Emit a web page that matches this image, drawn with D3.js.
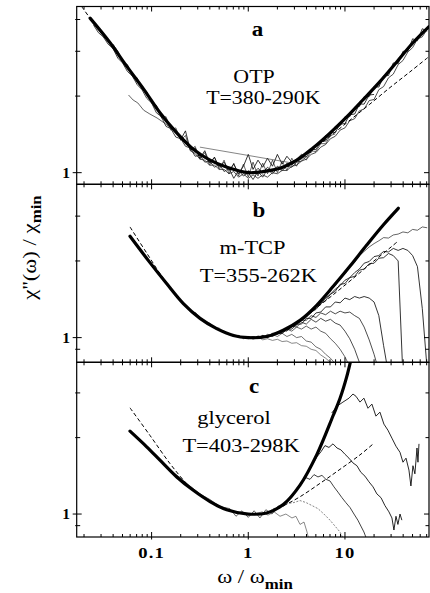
<!DOCTYPE html>
<html><head><meta charset="utf-8">
<script src="https://cdn.jsdelivr.net/npm/d3@7/dist/d3.min.js"></script>
<style>body{margin:0;background:#fff}svg{display:block}</style>
</head><body>
<svg id="chart" width="430" height="593"></svg>
<script>
// ---------------- DATA ----------------
const xDomain = [0.0168, 74];
const xMajorTicks = [0.1, 1, 10];
const xTickLabels = ["0.1", "1", "10"];
const yDomainOTP = [0.9, 4.5];
const yDomainTCP = [0.8, 4.0];
const yDomainGly = [0.812, 3.96];
const yTicksOTP = [1, 2, 3, 4];
const yTicksTCP = [0.9, 1, 2, 3];
const yTicksGly = [0.9, 1, 2, 3];
const yTickLabels = ["1"];

// common frequency grid (omega/omega_min) for the measured spectra
const freqGrid = [0.0224,0.0251,0.0282,0.0316,0.0355,0.0398,0.0447,0.0501,0.0562,0.0631,0.0708,0.0794,0.0891,0.1,0.112,0.126,0.141,0.158,0.178,0.2,0.224,0.251,0.282,0.316,0.355,0.398,0.447,0.501,0.562,0.631,0.708,0.794,0.891,1,1.12,1.26,1.41,1.58,1.78,2,2.24,2.51,2.82,3.16,3.55,3.98,4.47,5.01,5.62,6.31,7.08,7.94,8.91,10,11.2,12.6,14.1,15.8,17.8,20,22.4,25.1,28.2,31.6,35.5,39.8,44.7,50.1,56.2,63.1,70.8];

// ---- panel a : OTP ----
const otpMaster = [[0.0231,4.05],[0.0372,3.24],[0.0557,2.61],[0.0834,2.12],[0.122,1.72],[0.183,1.43],[0.274,1.23],[0.402,1.12],[0.603,1.05],[1,1.0],[1.42,1.01],[2.12,1.04],[3.18,1.12],[4.67,1.25],[7.0,1.43],[10.5,1.66],[15.3,1.93],[23.0,2.28],[34.5,2.73],[50.5,3.24],[74,3.75]];
const otpDashed = [[0.0189,4.5],[0.0231,4.05],[0.0372,3.24],[0.0557,2.61],[0.0834,2.12],[0.122,1.72],[0.183,1.43],[0.274,1.23],[0.402,1.12],[0.603,1.05],[1,1.0],[1.42,1.01],[2.12,1.04],[3.18,1.12],[4.67,1.24],[7.0,1.39],[11.3,1.61],[18.1,1.86],[29.2,2.16],[47.0,2.49],[75.7,2.88]];
const otp1 = {from:0.0251, chi:[3.80,3.55,3.42,3.20,3.08,2.82,2.70,2.50,2.40,2.22,2.12,1.96,1.88,1.72,1.66,1.52,1.49,1.38,1.36,1.27,1.25,1.16,1.17,1.10,1.11,1.05,1.08,1.01,1.04,0.95,1.02,0.97,1.00,0.94,1.01,0.96,1.03,0.99,1.04,1.02,1.06,1.05,1.10,1.11,1.16]};
const otp2 = {from:0.0398, chi:[3.20,3.00,2.72,2.66,2.40,2.36,2.13,2.08,1.88,1.84,1.65,1.63,1.50,1.47,1.35,1.46,1.23,1.25,1.14,1.22,1.09,1.15,1.05,1.10,1.02,1.08,0.99,1.06,1.18,1.03,1.12,1.05,1.14,1.06,1.18,1.08,1.16,1.10,1.13,1.18,1.15,1.24,1.23,1.33,1.33,1.43,1.44,1.55,1.56,1.69,1.70,1.86,1.86,2.02,2.03]};
const otp3 = {from:0.251, chi:[1.22,1.19,1.13,1.12,1.07,1.07,1.03,1.03,0.99,1.01,0.96,0.99,0.95,0.98,0.95,0.98,0.96,1.00,0.99,1.02,1.02,1.06,1.07,1.11,1.13,1.18,1.20,1.26,1.29,1.36,1.39,1.47,1.50,1.60,1.63,1.75,1.78,1.92,1.94,2.12,2.18,2.36,2.44,2.66,2.76,2.98,3.10,3.35,3.42,3.66]};
const otp4 = {from:1, chi:[1.02,0.99,1.04,1.00,1.05,1.01,1.06,1.03,1.09,1.07,1.13,1.13,1.20,1.20,1.29,1.30,1.40,1.41,1.52,1.53,1.66,1.66,1.81,1.82,1.99,1.99,2.18,2.17,2.40,2.41,2.70,2.68,3.00,3.00,3.36,3.30,3.68,3.60]};
const otp5 = {from:0.126, chi:[1.64,1.66,1.47,1.50,1.34,1.40,1.22,1.27,1.13,1.20,1.07,1.15,1.03,1.12,0.99,1.09,0.97,1.08,0.96,1.10,0.97,1.09,0.99,1.12,1.00,1.11,1.02,1.14,1.06,1.17,1.12,1.22,1.21,1.30,1.30,1.40,1.42]};
const otpLow = [[0.0577,2.02],[0.0644,1.93],[0.072,1.88],[0.0828,1.76],[0.096,1.70],[0.114,1.64],[0.138,1.56],[0.16,1.49],[0.19,1.40]];
const otpLink = [[0.316,1.26],[2.9,1.09]];

// ---- panel b : m-TCP ----
const tcpMaster = [[0.0598,2.50],[0.0962,1.97],[0.143,1.63],[0.213,1.36],[0.317,1.19],[0.471,1.085],[0.70,1.02],[1,1],[1.55,1.01],[2.30,1.07],[3.43,1.17],[5.10,1.34],[7.57,1.59],[11.3,1.91],[16.8,2.31],[24.9,2.77],[35.6,3.22]];
const tcpDashed = [[0.0598,2.72],[0.0896,2.14],[0.132,1.71],[0.213,1.36],[0.317,1.19],[0.471,1.085],[0.70,1.02],[1,1],[1.55,1.01],[2.28,1.065],[3.43,1.16],[4.35,1.25],[7.0,1.44],[11.3,1.67],[18.1,1.94],[29.2,2.25],[35.3,2.39]];
const tcp0 = {from:0.282, chi:[1.26,1.20,1.16,1.14,1.10,1.09,1.05,1.04,1.015,1.02,0.99,1.01,0.985,1.005,0.98,0.99,0.975,0.985,0.965,0.97,0.95,0.955,0.93,0.925,0.90,0.89,0.855,0.83,0.80,0.76]};
const tcp1 = {from:3.16, chi:[1.14,1.18,1.22,1.28,1.32,1.40,1.45,1.55,1.60,1.71,1.78,1.90,1.98,2.10,2.18,2.27,2.34,2.40,2.47,2.46,2.53,2.55,2.60,2.58,2.66,2.64,2.72,2.70]};
const tcp2 = {from:2.51, chi:[1.08,1.10,1.14,1.16,1.22,1.25,1.32,1.36,1.43,1.48,1.55,1.60,1.68,1.72,1.80,1.86,1.96,1.99,2.08,2.10,2.18,2.17,2.24,2.20,2.24,2.20,2.10,1.90,1.30,0.75]};
const tcp3 = {from:2.0, chi:[1.03,1.05,1.07,1.10,1.13,1.17,1.20,1.26,1.29,1.36,1.40,1.48,1.52,1.62,1.63,1.72,1.74,1.84,1.86,1.95,1.96,2.05,2.06,2.14,2.10,2.00,0.70]};
const tcp4 = {from:1.58, chi:[1.02,1.01,1.04,1.04,1.08,1.08,1.13,1.13,1.19,1.19,1.25,1.26,1.32,1.32,1.38,1.37,1.43,1.41,1.45,1.43,1.45,1.43,1.38,1.22,0.93,0.72]};
const tcp5 = {from:1.26, chi:[1.00,1.015,1.01,1.04,1.04,1.07,1.08,1.12,1.12,1.17,1.17,1.22,1.20,1.25,1.23,1.27,1.24,1.27,1.25,1.26,1.22,1.19,1.10,0.98,0.86,0.74]};
const tcp6 = {from:1, chi:[0.99,1.01,0.99,1.02,1.00,1.03,1.03,1.07,1.06,1.11,1.10,1.15,1.13,1.18,1.15,1.19,1.16,1.18,1.14,1.12,1.06,0.99,0.90,0.80,0.72]};
const tcp7 = {from:0.794, chi:[1.02,0.995,1.01,0.99,1.015,1.00,1.03,1.02,1.05,1.04,1.08,1.06,1.10,1.08,1.11,1.08,1.10,1.06,1.04,0.99,0.95,0.90,0.84,0.77]};
const tcp8 = {from:0.501, chi:[1.07,1.06,1.03,1.03,1.005,1.01,0.995,1.01,0.995,1.02,1.00,1.03,1.01,1.04,1.01,1.03,1.00,1.01,0.97,0.96,0.92,0.90,0.86,0.83,0.79,0.74]};

// ---- panel c : glycerol ----
const glyMaster = [[0.0598,2.12],[0.0889,1.84],[0.122,1.63],[0.182,1.40],[0.270,1.24],[0.402,1.12],[0.598,1.04],[1,1],[1.55,1.01],[2.30,1.09],[3.43,1.30],[5.10,1.71],[7.57,2.45],[8.88,2.85],[10.4,3.46],[11.5,4.04]];
const glyDashed = [[0.0598,2.62],[0.0962,2.04],[0.155,1.58],[0.221,1.34],[0.270,1.24],[0.402,1.12],[0.598,1.04],[1,1],[1.55,1.01],[2.28,1.075],[3.43,1.17],[5.51,1.32],[8.88,1.50],[14.3,1.71],[19.6,1.89]];
const gly0 = [[0.122,1.62],[0.155,1.49],[0.197,1.39],[0.249,1.29],[0.317,1.20],[0.402,1.14],[0.510,1.07],[0.647,1.05],[0.746,0.98],[0.861,1.03],[1,0.97],[1.15,1.03],[1.32,0.965],[1.52,1.04],[1.76,1.0],[2.03,1.075],[2.34,1.075],[2.70,1.17]];
const gly1 = [[7.3,2.50],[8.27,2.66],[9.53,2.76],[11.0,2.86],[12.1,2.97],[13.0,2.91],[14.3,2.76],[15.7,2.86],[17.3,2.61],[19.0,2.71],[20.9,2.43],[23.0,2.52],[25.3,2.26],[27.8,2.14],[30.6,1.99],[33.7,1.85],[37.1,1.75],[39.8,1.60],[42.8,1.66],[45.9,1.49],[48.1,1.29],[50.5,1.55],[52.9,1.44],[55.6,1.82],[56.9,1.60],[58.3,1.89]];
const gly2 = [[3.43,1.29],[3.86,1.38],[4.24,1.48],[4.67,1.58],[5.13,1.68],[5.65,1.76],[6.21,1.86],[6.83,1.83],[7.52,1.89],[8.27,1.82],[9.08,1.79],[10,1.72],[11.0,1.66],[12.1,1.59],[13.3,1.55],[14.6,1.46],[16.1,1.41],[17.7,1.34],[19.5,1.28],[21.4,1.20],[23.6,1.16],[25.9,1.08],[28.5,1.02],[30.6,0.965],[32.1,0.865],[33.7,0.98],[35.3,0.91],[37.1,1.0],[38.8,0.946]];
const gly3 = [[3.27,1.27],[3.59,1.34],[3.95,1.39],[4.35,1.37],[4.78,1.43],[5.26,1.40],[5.78,1.42],[6.36,1.37],[7.0,1.35],[7.69,1.28],[8.46,1.22],[9.31,1.16],[10.2,1.11],[11.3,1.06],[12.4,1.0],[13.6,0.946],[14.6,0.897],[15.7,0.85],[16.9,0.79]];
const gly4 = [[1.68,1.03],[1.93,1.06],[2.23,1.08],[2.57,1.10],[2.97,1.11],[3.43,1.13],[3.95,1.11],[4.56,1.08],[5.26,1.05],[6.06,1.0],[7.0,0.946],[7.88,0.897],[8.88,0.85],[9.77,0.79]];
const gly5 = [[1.17,1.0],[1.39,1.02],[1.60,0.99],[1.85,1.02],[2.13,0.98],[2.45,1.0],[2.83,0.965],[3.11,0.98],[3.43,0.91],[3.77,0.93],[4.05,0.85],[4.24,0.79]];

const panelLetters = ["a", "b", "c"];
const sampleNames = ["OTP", "m-TCP", "glycerol"];
const tempRanges = ["T=380-290K", "T=355-262K", "T=403-298K"];

// ---------------- DRAWING ----------------
const SERIF = "'Liberation Serif', 'Times New Roman', serif";
const svg = d3.select("#chart");
const xLeft = 76.7, xRight = 429;
const x = d3.scaleLog().domain(xDomain).range([xLeft, xRight]);

function fromGrid(s) {
  const i0 = freqGrid.findIndex(f => Math.abs(Math.log10(f / s.from)) < 0.01);
  return s.chi.map((c, k) => [freqGrid[i0 + k], c]);
}

const panels = [
  { top: 6.5, bottom: 184.3, dom: yDomainOTP, ticks: yTicksOTP, master: otpMaster, dashed: otpDashed,
    data: [[fromGrid(otp1), "#111", 0.8], [fromGrid(otp5), "#222", 0.7], [fromGrid(otp2), "#000", 0.8], [fromGrid(otp3), "#222", 0.8], [fromGrid(otp4), "#000", 0.8], [otpLow, "#222", 0.7], [otpLink, "#333", 0.6]],
    letter: [257.5, 36], name: [254, 82.5], temp: [263.3, 103.5], nameSize: 19 },
  { top: 184.3, bottom: 362.3, dom: yDomainTCP, ticks: yTicksTCP, master: tcpMaster, dashed: tcpDashed,
    data: [[fromGrid(tcp0), "#555", 0.7], [fromGrid(tcp8), "#333", 0.7], [fromGrid(tcp7), "#222", 0.7], [fromGrid(tcp6), "#111", 0.75], [fromGrid(tcp5), "#111", 0.75], [fromGrid(tcp4), "#000", 0.8], [fromGrid(tcp3), "#000", 0.8], [fromGrid(tcp2), "#000", 0.8], [fromGrid(tcp1), "#222", 0.7]],
    letter: [259, 216.7], name: [252.5, 254], temp: [258.3, 281.7], nameSize: 19.5 },
  { top: 362.3, bottom: 537, dom: yDomainGly, ticks: yTicksGly, master: glyMaster, dashed: glyDashed,
    data: [[gly0, "#222", 0.7], [gly5, "#555", 0.7], [gly4, "#666", 0.8, "2,1.5"], [gly3, "#111", 0.8], [gly2, "#000", 0.85], [gly1, "#000", 0.85]],
    letter: [254, 393], name: [234, 424], temp: [241, 451.7], nameSize: 19.5 }
];

function addText(str, cx, by, size, weight, sx) {
  return svg.append("text")
    .attr("transform", `translate(${cx},${by}) scale(${sx},1)`)
    .attr("text-anchor", "middle")
    .style("font-family", SERIF).attr("font-size", size).attr("font-weight", weight)
    .attr("fill", "#000").text(str);
}

const xMinor = [];
[0.01, 0.1, 1, 10].forEach(d => { for (let m = 2; m <= 9; m++) { const v = d * m; if (v >= xDomain[0] && v <= xDomain[1]) xMinor.push(v); } });

panels.forEach((p, i) => {
  const y = d3.scaleLog().domain(p.dom).range([p.bottom, p.top]);
  const clipId = "clip" + i;
  svg.append("clipPath").attr("id", clipId).append("rect")
    .attr("x", xLeft).attr("y", p.top).attr("width", xRight - xLeft).attr("height", p.bottom - p.top);
  const g = svg.append("g").attr("clip-path", `url(#${clipId})`);
  const lin = d3.line().x(d => x(d[0])).y(d => y(d[1]));
  const smooth = d3.line().x(d => x(d[0])).y(d => y(d[1])).curve(d3.curveCatmullRom.alpha(0.5));

  p.data.forEach(([pts, col, w, dash]) => {
    g.append("path").attr("d", lin(pts)).attr("fill", "none").attr("stroke", col)
      .attr("stroke-width", w).attr("stroke-linejoin", "round").attr("stroke-dasharray", dash || null);
  });
  g.append("path").attr("d", smooth(p.dashed)).attr("fill", "none").attr("stroke", "#000")
    .attr("stroke-width", 1).attr("stroke-dasharray", "4,2.5");
  g.append("path").attr("d", smooth(p.master)).attr("fill", "none").attr("stroke", "#000")
    .attr("stroke-width", 3.2).attr("stroke-linecap", "round");

  svg.append("rect").attr("x", xLeft).attr("y", p.top).attr("width", xRight - xLeft).attr("height", p.bottom - p.top)
    .attr("fill", "none").attr("stroke", "#000").attr("stroke-width", 1.2);

  const tk = svg.append("g").attr("stroke", "#000").attr("stroke-width", 1);
  xMinor.forEach(v => {
    tk.append("line").attr("x1", x(v)).attr("x2", x(v)).attr("y1", p.bottom).attr("y2", p.bottom - 3);
    tk.append("line").attr("x1", x(v)).attr("x2", x(v)).attr("y1", p.top).attr("y2", p.top + 3);
  });
  xMajorTicks.forEach(v => {
    tk.append("line").attr("x1", x(v)).attr("x2", x(v)).attr("y1", p.bottom + (i === 2 ? 2.5 : 0)).attr("y2", p.bottom - 5);
    tk.append("line").attr("x1", x(v)).attr("x2", x(v)).attr("y1", p.top).attr("y2", p.top + 5);
  });
  p.ticks.forEach(v => {
    const yy = y(v), major = v === 1;
    tk.append("line").attr("x1", xLeft - (major ? 4 : 1.5)).attr("x2", xLeft + (major ? 5 : 3.5)).attr("y1", yy).attr("y2", yy);
    tk.append("line").attr("x1", xRight - (major ? 5 : 3.5)).attr("x2", xRight).attr("y1", yy).attr("y2", yy);
  });
  svg.append("text").attr("x", 70).attr("y", y(1) + 5).attr("text-anchor", "end")
    .style("font-family", SERIF).attr("font-size", 15.5).attr("font-weight", "bold").text(yTickLabels[0]);

  addText(panelLetters[i], p.letter[0], p.letter[1], 20, "bold", 1.15);
  addText(sampleNames[i], p.name[0], p.name[1], p.nameSize, "normal", 1.15);
  addText(tempRanges[i], p.temp[0], p.temp[1], p.nameSize, "normal", 1.15);
});

xMajorTicks.forEach((v, k) => {
  addText(xTickLabels[k], x(v), 558.3, 15.5, "bold", 1.2).attr("letter-spacing", 1);
});

const yl = svg.append("text").attr("transform", "translate(36,247.5) rotate(-90) scale(1.2,1)")
  .attr("text-anchor", "middle").style("font-family", SERIF).attr("font-size", 19);
yl.append("tspan").text("\u03C7''(\u03C9) / \u03C7");
yl.append("tspan").attr("dy", 5).attr("font-size", 14).attr("font-weight", "bold").text("min");

const xl = svg.append("text").attr("transform", "translate(255,583) scale(1.2,1)")
  .attr("text-anchor", "middle").style("font-family", SERIF).attr("font-size", 19);
xl.append("tspan").text("\u03C9 / \u03C9");
xl.append("tspan").attr("dy", 6).attr("font-size", 14).attr("font-weight", "bold").text("min");
</script>
</body></html>
